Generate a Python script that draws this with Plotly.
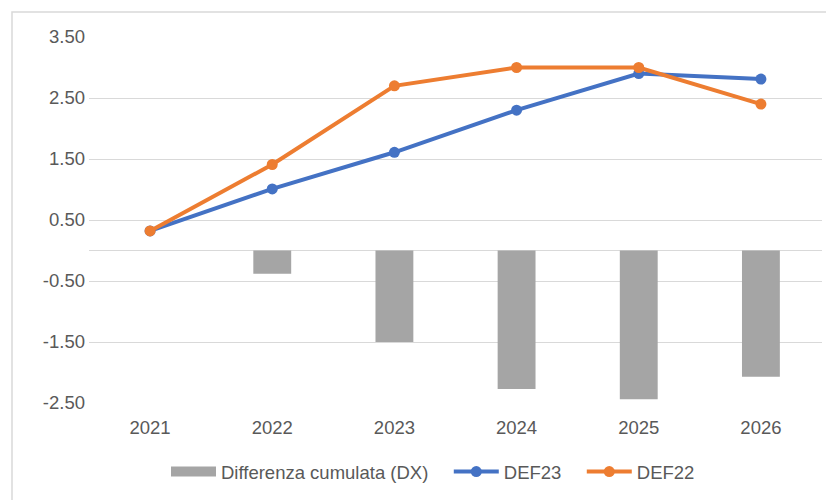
import plotly.graph_objects as go

years = ["2021", "2022", "2023", "2024", "2025", "2026"]
diff_cum = [None, -0.38, -1.50, -2.27, -2.44, -2.07]
def23 = [0.32, 1.01, 1.61, 2.30, 2.90, 2.81]
def22 = [0.32, 1.41, 2.70, 3.00, 3.00, 2.40]
tick_vals = [3.5, 2.5, 1.5, 0.5, -0.5, -1.5, -2.5]
tick_text = ["3.50", "2.50", "1.50", "0.50", "-0.50", "-1.50", "-2.50"]

FONT = "Liberation Sans"
GRAY_TXT = "#595959"
FS = 18.5
NB = "\u00a0"

fig = go.Figure()
fig.add_trace(go.Bar(x=years, y=diff_cum, name="Differenza cumulata (DX)",
                     showlegend=False,
                     marker=dict(color="#A5A5A5", line=dict(width=0))))
# legend entry for the bars drawn as a wide grey rectangle
fig.add_trace(go.Scatter(x=[None], y=[None], name="Differenza cumulata (DX)" + NB * 3,
                         mode="lines", line=dict(color="#A5A5A5", width=12)))
fig.add_trace(go.Scatter(x=years, y=def23, name="DEF23" + NB * 3, mode="lines+markers",
                         line=dict(color="#4472C4", width=4),
                         marker=dict(color="#4472C4", size=11)))
fig.add_trace(go.Scatter(x=years, y=def22, name="DEF22", mode="lines+markers",
                         line=dict(color="#ED7D31", width=4),
                         marker=dict(color="#ED7D31", size=11)))

OFF = 8  # page body margin
W, H = 834 - OFF, 500 - OFF
L, T = 89 - OFF, 37 - OFF
R = W - (822 - OFF)
B = H - (403 - OFF)
pw = W - L - R
ph = H - T - B

fig.update_layout(
    width=W, height=H,
    margin=dict(l=L, r=R, t=T, b=B),
    paper_bgcolor="white", plot_bgcolor="white",
    font=dict(family=FONT, size=FS, color=GRAY_TXT),
    bargap=0.69,
    showlegend=True,
    legend=dict(orientation="h", xref="container", x=(433 - OFF) / W, xanchor="center",
                yref="container", y=(H - (472 - OFF)) / H, yanchor="middle",
                font=dict(size=FS, color=GRAY_TXT), itemwidth=45,
                traceorder="normal", bgcolor="rgba(0,0,0,0)"),
    xaxis=dict(showgrid=False, showline=False, ticks="", ticklabelstandoff=11,
               tickfont=dict(size=FS, color=GRAY_TXT)),
    yaxis=dict(range=[-2.5, 3.5], tickvals=tick_vals, ticktext=tick_text,
               showgrid=True, gridcolor="#D9D9D9", gridwidth=1.3,
               zeroline=True, zerolinecolor="#D9D9D9", zerolinewidth=1.3,
               showline=False, ticks="", ticklabelstandoff=3,
               tickfont=dict(size=FS, color=GRAY_TXT)),
)

fig.add_shape(type="rect", xref="paper", yref="paper",
              x0=(12 - 89) / pw, x1=(W + 20 - L) / pw,
              y0=-(H + 20 - (403 - OFF)) / ph, y1=(403 - 12) / ph,
              line=dict(color="#D9D9D9", width=1.5), fillcolor="rgba(0,0,0,0)",
              layer="below")

fig.write_html("out.html")
